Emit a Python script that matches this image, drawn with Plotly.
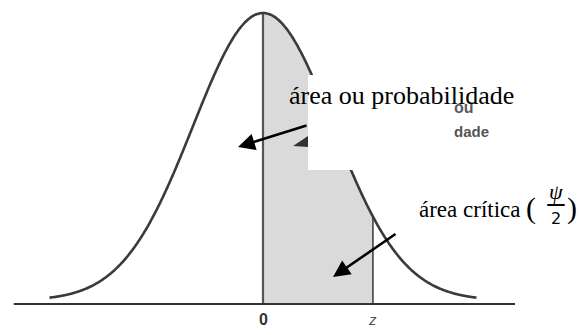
import numpy as np
import plotly.graph_objects as go

# Standard normal curve, shaded from 0 to z
MEAN = 0.0
SD = 1.0
Z_VALUE = 1.57
X_MIN, X_MAX = -3.05, 3.05
BASE = -0.005

AXIS_LABELS = ["0", "z"]
AREA_LABEL = "área ou probabilidade"
CRIT_LABEL = "área crítica "
OLD_LABELS = ["ou", "dade"]

SERIF = "Times New Roman, Liberation Serif, DejaVu Serif, serif"
SANS = "Arial, Liberation Sans, sans-serif"


def pdf(x):
    return np.exp(-0.5 * ((x - MEAN) / SD) ** 2) / (SD * np.sqrt(2 * np.pi))


xs = np.linspace(X_MIN, X_MAX, 400)
ys = pdf(xs)

xs_area = np.linspace(0, Z_VALUE, 120)
ys_area = pdf(xs_area)

fig = go.Figure()

# shaded area between 0 and z
fig.add_trace(go.Scatter(
    x=np.concatenate([[0], xs_area, [Z_VALUE, 0]]),
    y=np.concatenate([[BASE], ys_area, [BASE, BASE]]),
    fill="toself", fillcolor="#dadada", mode="none", hoverinfo="skip",
))

# bounding verticals of the area
fig.add_trace(go.Scatter(x=[0, 0], y=[BASE, pdf(0)], mode="lines",
                         line=dict(color="#555555", width=2.2), hoverinfo="skip"))
fig.add_trace(go.Scatter(x=[Z_VALUE, Z_VALUE], y=[BASE, pdf(Z_VALUE)], mode="lines",
                         line=dict(color="#555555", width=1.8), hoverinfo="skip"))

# density curve
fig.add_trace(go.Scatter(x=xs, y=ys, mode="lines",
                         line=dict(color="#3a3a3a", width=2.6, shape="spline"),
                         hoverinfo="skip"))

# horizontal axis line
fig.add_trace(go.Scatter(x=[-3.56, 3.6], y=[BASE, BASE], mode="lines",
                         line=dict(color="#333333", width=2), hoverinfo="skip"))

shapes = [
    # label box
    dict(type="rect", xref="x", yref="y", x0=0.643, x1=2.671, y0=0.181, y1=0.313,
         fillcolor="white", line=dict(width=0), layer="above"),
    # small arrow tip beside the box
    dict(type="path", xref="x", yref="y",
         path="M 0.43 0.2143 L 0.643 0.2282 L 0.643 0.2129 Z",
         fillcolor="#333333", line=dict(width=0), layer="above"),
    # fraction bar
    dict(type="line", xref="x", yref="y", x0=4.06, x1=4.31, y0=0.1324, y1=0.1324,
         line=dict(color="black", width=2), layer="above"),
]

annotations = [
    dict(x=2.7, y=0.2675, text="<b>" + OLD_LABELS[0] + "</b>", showarrow=False,
         xanchor="left", yanchor="middle",
         font=dict(family=SANS, size=16, color="#5a5a5a")),
    dict(x=2.7, y=0.2338, text="<b>" + OLD_LABELS[1] + "</b>", showarrow=False,
         xanchor="left", yanchor="middle",
         font=dict(family=SANS, size=15, color="#555555")),
    dict(x=0.343, y=0.285, text=AREA_LABEL, showarrow=False, xanchor="left",
         yanchor="middle", font=dict(family=SERIF, size=26, color="black")),
    dict(x=2.2, y=0.1255, text=CRIT_LABEL, showarrow=False, xanchor="left",
         yanchor="middle", font=dict(family=SERIF, size=23, color="black")),
    dict(x=3.83, y=0.128, text="(", showarrow=False, xanchor="center",
         yanchor="middle", font=dict(family=SERIF, size=30, color="black")),
    dict(x=4.186, y=0.1505, text="<i>ψ</i>", showarrow=False, xanchor="center",
         yanchor="middle", font=dict(family=SERIF, size=22, color="black")),
    dict(x=4.186, y=0.113, text="2", showarrow=False, xanchor="center",
         yanchor="middle", font=dict(family="DejaVu Sans", size=16, color="black")),
    dict(x=4.414, y=0.128, text=")", showarrow=False, xanchor="center",
         yanchor="middle", font=dict(family=SERIF, size=30, color="black")),
    # axis labels
    dict(x=0, y=-0.0272, text="<b>" + AXIS_LABELS[0] + "</b>", showarrow=False,
         font=dict(family=SANS, size=16, color="#333333")),
    dict(x=Z_VALUE, y=-0.0272, text="<i>" + AXIS_LABELS[1] + "</i>", showarrow=False,
         font=dict(family=SANS, size=15, color="#555555")),
    # arrows
    dict(x=-0.357, y=0.2129, ax=0.643, ay=0.2435, xref="x", yref="y",
         axref="x", ayref="y", text="", showarrow=True, arrowhead=2,
         arrowsize=1.3, arrowwidth=2.6, arrowcolor="black"),
    dict(x=1.0, y=0.0325, ax=1.914, ay=0.0936, xref="x", yref="y",
         axref="x", ayref="y", text="", showarrow=True, arrowhead=2,
         arrowsize=1.3, arrowwidth=2.6, arrowcolor="black"),
]

fig.update_layout(
    width=579, height=335,
    margin=dict(l=0, r=0, t=0, b=0),
    paper_bgcolor="white", plot_bgcolor="white",
    showlegend=False,
    xaxis=dict(range=[-263 / 70, 316 / 70], visible=False, fixedrange=True),
    yaxis=dict(range=[BASE - 31 / 720.4, BASE + 304 / 720.4], visible=False,
               fixedrange=True),
    shapes=shapes,
    annotations=annotations,
)

fig.write_html("out.html")
